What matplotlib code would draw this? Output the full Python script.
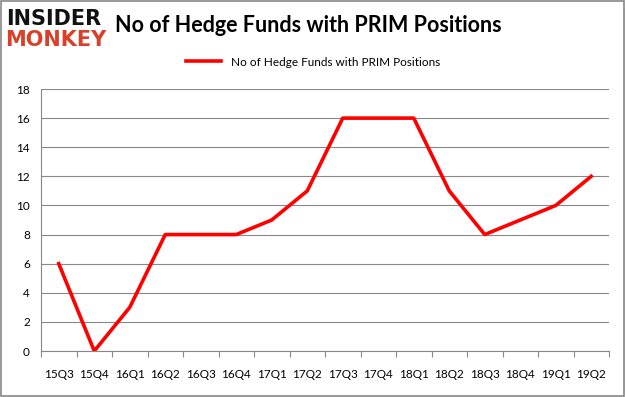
import matplotlib
matplotlib.use('Agg')
import matplotlib.pyplot as plt
from matplotlib.patches import Rectangle

plt.rcParams['font.family'] = ['Lato', 'DejaVu Sans']

quarters = ['15Q3', '15Q4', '16Q1', '16Q2', '16Q3', '16Q4', '17Q1', '17Q2',
            '17Q3', '17Q4', '18Q1', '18Q2', '18Q3', '18Q4', '19Q1', '19Q2']
funds = [6, 0, 3, 8, 8, 8, 9, 11, 16, 16, 16, 11, 8, 9, 10, 12]
yticks = [0, 2, 4, 6, 8, 10, 12, 14, 16, 18]

fig = plt.figure(figsize=(6.26, 3.97), dpi=100)
ax = fig.add_axes([41 / 626, 1 - 351 / 397, 568 / 626, 262 / 397])

x = list(range(len(quarters)))
ax.plot(x, funds, color='#ff0000', linewidth=2.6, solid_joinstyle='round',
        label='No of Hedge Funds with PRIM Positions')

ax.set_xlim(-0.5, len(quarters) - 0.5)
ax.set_ylim(0, 18)
ax.set_yticks(yticks)
ax.set_yticklabels([str(v) for v in yticks], fontsize=8.5)
ax.set_xticks([i - 0.5 for i in range(len(quarters) + 1)])
ax.set_xticklabels([])
ax.set_xticks(x, minor=True)
ax.set_xticklabels(quarters, minor=True, fontsize=8.5)
ax.tick_params(axis='x', which='minor', length=0, pad=13)
ax.tick_params(axis='x', which='major', length=4, color='#888888')
ax.tick_params(axis='y', length=0, pad=8)
ax.grid(axis='y', color='#888888', linewidth=0.8)
ax.set_axisbelow(True)
for s in ['top', 'right']:
    ax.spines[s].set_visible(False)
ax.spines['left'].set_color('#888888')
ax.spines['bottom'].set_color('#888888')

fig.legend(loc='center', bbox_to_anchor=(0.5, 1 - 62 / 397), frameon=False,
           fontsize=8.5, handlelength=3)

fig.text(115 / 626, 1 - 26 / 397, 'No of Hedge Funds with PRIM Positions',
         fontsize=15.5, fontweight='bold', va='center', ha='left')
fig.text(6 / 626, 1 - 19 / 397, 'INSIDER', fontsize=15, fontweight='heavy',
         color='#111111', va='center', ha='left', family='DejaVu Sans')
fig.text(5 / 626, 1 - 40 / 397, 'MONKEY', fontsize=15, fontweight='heavy',
         color='#d9402a', va='center', ha='left', family='DejaVu Sans')

fig.patches.append(Rectangle((0.002, 0.003), 0.995, 0.994, transform=fig.transFigure,
                             fill=False, edgecolor='#888888', linewidth=1.2))

fig.savefig('out.png', dpi=100)
